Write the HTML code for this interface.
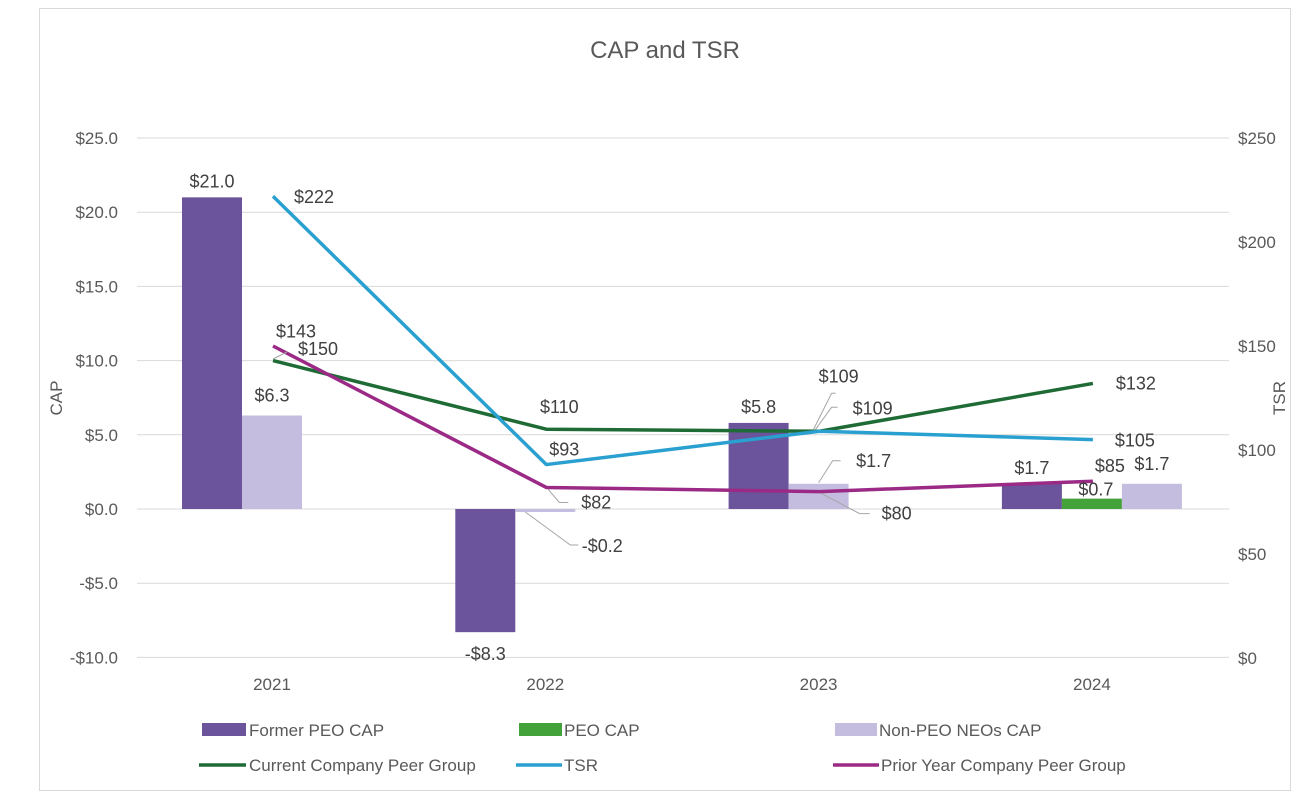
<!DOCTYPE html>
<html><head><meta charset="utf-8"><style>
html,body{margin:0;padding:0;background:#fff}
svg{display:block;font-family:"Liberation Sans",sans-serif}
</style></head><body>
<svg id="chart" width="1300" height="794" viewBox="0 0 1300 794">
<rect x="39.5" y="8.5" width="1251" height="782" fill="#fff" stroke="#d9d9d9"/>
<text x="665" y="58" text-anchor="middle" font-size="24" fill="#595959">CAP and TSR</text>
<text transform="translate(62,398) rotate(-90)" text-anchor="middle" font-size="17" fill="#595959">CAP</text>
<text transform="translate(1285,398) rotate(-90)" text-anchor="middle" font-size="17" fill="#595959">TSR</text>
<g id="grid"></g><g id="bars"></g><g id="lines"></g><g id="labels"></g><g id="axes"></g>
<g>
<rect x="202" y="723" width="44" height="13" fill="#6b549b"/>
<text x="249" y="736" font-size="17" fill="#595959">Former PEO CAP</text>
<rect x="519" y="723" width="43" height="13" fill="#44a23a"/>
<text x="564" y="736" font-size="17" fill="#595959">PEO CAP</text>
<rect x="835" y="723" width="42" height="13" fill="#c5bde0"/>
<text x="879" y="736" font-size="17" fill="#595959">Non-PEO NEOs CAP</text>
<line x1="199" y1="765" x2="246" y2="765" stroke="#1e6b35" stroke-width="3.5"/>
<text x="249" y="771" font-size="17" fill="#595959">Current Company Peer Group</text>
<line x1="516" y1="765" x2="562" y2="765" stroke="#2aa0d0" stroke-width="3.5"/>
<text x="564" y="771" font-size="17" fill="#595959">TSR</text>
<line x1="833" y1="765" x2="879" y2="765" stroke="#9b2a86" stroke-width="3.5"/>
<text x="881" y="771" font-size="17" fill="#595959">Prior Year Company Peer Group</text>
</g>
</svg>
<script>
const years = ["2021","2022","2023","2024"];
const formerPeo = [21.0, -8.3, 5.8, 1.7];
const peo = [null, null, null, 0.7];
const nonPeo = [6.3, -0.2, 1.7, 1.7];
const tsr = [222, 93, 109, 105];
const currentPeer = [143, 110, 109, 132];
const priorPeer = [150, 82, 80, 85];
const leftTicks = [-10, -5, 0, 5, 10, 15, 20, 25];
const rightTicks = [0, 50, 100, 150, 200, 250];

const NS = "http://www.w3.org/2000/svg";
const yL = v => 509 - v * 14.84;
const yR = v => 658 - v * 2.08;
const xC = i => 272 + i * 273.3;
const BW = 60;
function mk(tag, attrs, parent, txt){
  const e = document.createElementNS(NS, tag);
  for (const k in attrs) e.setAttribute(k, attrs[k]);
  if (txt !== undefined) e.textContent = txt;
  document.getElementById(parent).appendChild(e);
  return e;
}
const fmtL = v => (v < 0 ? "-$" : "$") + Math.abs(v).toFixed(1);
const fmtR = v => "$" + v;

leftTicks.forEach(t => {
  const g = mk("line", {x1:137, x2:1229, y1:yL(t), y2:yL(t), stroke:"#d9d9d9", "stroke-width":1}, "grid");
  
  
  const l = mk("text", {x:118, y:yL(t)+6, "text-anchor":"end", "font-size":17, fill:"#595959"}, "axes", fmtL(t));
  
  
});
rightTicks.forEach(t => {
  const l = mk("text", {x:1238, y:yR(t)+6, "font-size":17, fill:"#595959"}, "axes", fmtR(t));
  
  
});
years.forEach((y, i) => {
  const l = mk("text", {x:xC(i), y:690, "text-anchor":"middle", "font-size":17, fill:"#595959"}, "axes", y);
  
  
});

function bar(i, slot, v, color, name){
  const x = xC(i) - 90 + slot * BW;
  const y0 = yL(0), y1 = yL(v);
  const r = mk("rect", {x:x, y:Math.min(y0,y1), width:BW, height:Math.max(Math.abs(y1-y0),1.5), fill:color}, "bars");
  
  
  return x;
}
function label(x, y, txt, name){
  const t = mk("text", {x:x, y:y, "text-anchor":"middle", "font-size":18, fill:"#404040"}, "labels", txt);
  
  
}
function leader(pts){
  const p = mk("polyline", {points:pts.map(a=>a.join(",")).join(" "), fill:"none", stroke:"#a6a6a6", "stroke-width":1}, "labels");
  
  
}

years.forEach((y, i) => {
  const fx = bar(i, 0, formerPeo[i], "#6b549b", "bar-former-peo");
  const fy = formerPeo[i] >= 0 ? yL(formerPeo[i]) - 10 : yL(formerPeo[i]) + 28;
  label(fx + 30, fy, fmtL(formerPeo[i]), "label-former-peo-" + y);
  let slot = 1;
  if (peo[i] !== null) {
    const px = bar(i, 1, peo[i], "#44a23a", "bar-peo");
    label(px + 34, yL(peo[i]) - 3, fmtL(peo[i]), "label-peo-" + y);
    slot = 2;
  }
  const nx = bar(i, slot, nonPeo[i], "#c5bde0", "bar-non-peo");
  if (i === 1) {
    const by = yL(0) + 3;
    leader([[nx+10, by], [nx+55, by+33], [nx+63, by+33]]);
    label(nx + 87, by + 40, fmtL(nonPeo[i]), "label-non-peo-" + y);
  } else if (i === 2) {
    const by = yL(nonPeo[i]);
    leader([[nx+30, by-1], [nx+44, by-23], [nx+52, by-23]]);
    label(nx + 85, by - 17, fmtL(nonPeo[i]), "label-non-peo-" + y);
  } else {
    label(nx + 30, yL(nonPeo[i]) - 14, fmtL(nonPeo[i]), "label-non-peo-" + y);
  }
});

function line(vals, color, name){
  const pts = vals.map((v, i) => [xC(i) + 1, yR(v)]);
  const p = mk("polyline", {points:pts.map(a=>a.join(",")).join(" "), fill:"none", stroke:color, "stroke-width":3.5, "stroke-linejoin":"round"}, "lines");
  
  
  return pts;
}
const pc = line(currentPeer, "#1e6b35", "line-current-peer");
const pt = line(tsr, "#2aa0d0", "line-tsr");
const pp = line(priorPeer, "#9b2a86", "line-prior-peer");

label(pc[0][0]+23, pc[0][1]-23, fmtR(currentPeer[0]), "label-current-peer-2021");
label(pc[1][0]+13, pc[1][1]-16, fmtR(currentPeer[1]), "label-current-peer-2022");
leader([[pc[2][0]-6, pc[2][1]-2], [pc[2][0]+12, pc[2][1]-38], [pc[2][0]+16, pc[2][1]-38]]);
label(pc[2][0]+19, pc[2][1]-49, fmtR(currentPeer[2]), "label-current-peer-2023");
label(pc[3][0]+43, pc[3][1]+6, fmtR(currentPeer[3]), "label-current-peer-2024");
label(pt[0][0]+41, pt[0][1]+7, fmtR(tsr[0]), "label-tsr-2021");
label(pt[1][0]+18, pt[1][1]-9, fmtR(tsr[1]), "label-tsr-2022");
leader([[pt[2][0]-4, pt[2][1]-2], [pt[2][0]+12, pt[2][1]-24], [pt[2][0]+18, pt[2][1]-24]]);
label(pt[2][0]+53, pt[2][1]-17, fmtR(tsr[2]), "label-tsr-2023");
label(pt[3][0]+42, pt[3][1]+7, fmtR(tsr[3]), "label-tsr-2024");
leader([[pp[0][0], pp[0][1]+13], [pp[0][0]+14, pp[0][1]+6]]);
label(pp[0][0]+45, pp[0][1]+9, fmtR(priorPeer[0]), "label-prior-peer-2021");
leader([[pp[1][0]+2, pp[1][1]+2], [pp[1][0]+13, pp[1][1]+15], [pp[1][0]+22, pp[1][1]+15]]);
label(pp[1][0]+50, pp[1][1]+21, fmtR(priorPeer[1]), "label-prior-peer-2022");
leader([[pp[2][0]+2, pp[2][1]+2], [pp[2][0]+40, pp[2][1]+22], [pp[2][0]+50, pp[2][1]+22]]);
label(pp[2][0]+77, pp[2][1]+28, fmtR(priorPeer[2]), "label-prior-peer-2023");
label(pp[3][0]+17, pp[3][1]-9, fmtR(priorPeer[3]), "label-prior-peer-2024");
</script>
</body></html>
